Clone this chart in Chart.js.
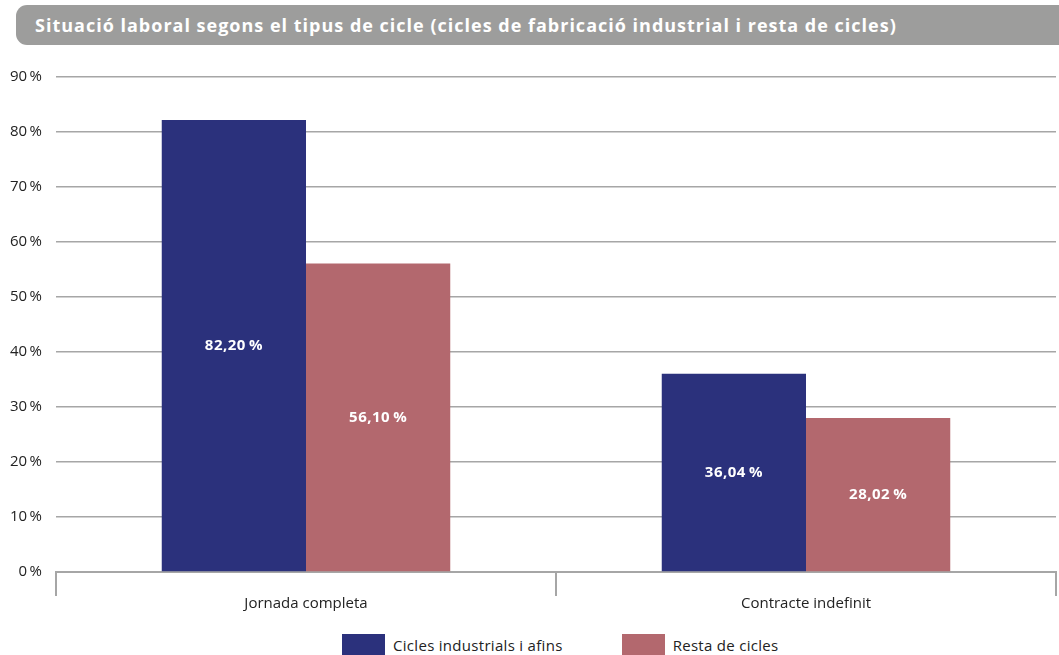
<!DOCTYPE html>
<html>
<head>
<meta charset="utf-8">
<script src="https://cdn.jsdelivr.net/npm/chart.js@4.4.1/dist/chart.umd.min.js"></script>
<style>
    html, body { margin: 0; padding: 0; background: #ffffff; overflow: hidden; }
    #wrap { position: relative; width: 1059px; height: 655px; overflow: hidden; }
    #title {
        position: absolute; left: 16px; top: 5px; width: 1043px; height: 40px;
        background: #9d9d9c; border-radius: 11px 0 0 11px;
        color: #ffffff; font-family: "Open Sans", sans-serif; font-weight: bold;
        font-size: 18px; letter-spacing: 1px; line-height: 40px; padding-left: 19px;
        box-sizing: border-box; white-space: nowrap; z-index: 2;
    }
    #box { position: absolute; left: 0; top: 0; width: 1059px; height: 625px; }
    #legend {
        position: absolute; left: 342px; top: 634px; display: flex; align-items: center;
        font-family: "Open Sans", sans-serif; font-size: 15px; letter-spacing: 0.3px; color: #222222;
    }
    #legend .item { display: flex; align-items: center; margin-right: 59px; white-space: nowrap; }
    #legend .swatch { width: 43px; height: 22px; margin-right: 8px; }
</style>
</head>
<body>
<div id="wrap">
    <div id="title">Situació laboral segons el tipus de cicle (cicles de fabricació industrial i resta de cicles)</div>
    <div id="box"><canvas id="SituacioChart"></canvas></div>
    <div id="legend"></div>
</div>
<script>
// Chart data
const categories = ['Jornada completa', 'Contracte indefinit'];
const industrialValues = [82.20, 36.04];
const restaValues = [56.10, 28.02];
const seriesNames = ['Cicles industrials i afins', 'Resta de cicles'];
const seriesColors = ['#2b317c', '#b3686e'];
const yTicks = [0, 10, 20, 30, 40, 50, 60, 70, 80, 90];

// Format numbers the Catalan way (comma as decimal separator, thin space before %)
function formatPct(v) {
    return v.toFixed(2).replace('.', ',') + '\u2009%';
}

// Draw the value labels in the middle of each bar
const barLabels = {
    id: 'barLabels',
    afterDatasetsDraw(chart) {
        const ctx = chart.ctx;
        ctx.save();
        ctx.fillStyle = '#ffffff';
        ctx.font = 'bold 15px "Open Sans", sans-serif';
        ctx.letterSpacing = '0.5px';
        ctx.textAlign = 'center';
        ctx.textBaseline = 'middle';
        chart.data.datasets.forEach((ds, i) => {
            chart.getDatasetMeta(i).data.forEach((bar, j) => {
                ctx.fillText(formatPct(ds.data[j]), bar.x, (bar.y + bar.base) / 2);
            });
        });
        ctx.restore();
    }
};

// Build the legend under the chart
function buildLegend(chart) {
    const legend = document.getElementById('legend');
    chart.data.datasets.forEach(ds => {
        const item = document.createElement('div');
        item.className = 'item';
        const swatch = document.createElement('span');
        swatch.className = 'swatch';
        swatch.style.background = ds.backgroundColor;
        const text = document.createElement('span');
        text.textContent = ds.label;
        item.appendChild(swatch);
        item.appendChild(text);
        legend.appendChild(item);
    });
}

function createChart(chartElementId) {
    const ctx = document.getElementById(chartElementId).getContext('2d');
    return new Chart(ctx, {
        type: 'bar',
        data: {
            labels: categories,
            datasets: [
                {
                    label: seriesNames[0],
                    data: industrialValues,
                    backgroundColor: seriesColors[0],
                    categoryPercentage: 0.577,
                    barPercentage: 1
                },
                {
                    label: seriesNames[1],
                    data: restaValues,
                    backgroundColor: seriesColors[1],
                    categoryPercentage: 0.577,
                    barPercentage: 1
                }
            ]
        },
        options: {
            responsive: true,
            maintainAspectRatio: false,
            animation: false,
            layout: { padding: { top: 77, right: 3, left: 0, bottom: 14 } },
            plugins: {
                tooltip: { enabled: false },
                legend: { display: false }
            },
            scales: {
                x: {
                    offset: true,
                    grid: {
                        offset: true,
                        drawOnChartArea: false,
                        drawTicks: true,
                        tickLength: 24,
                        color: '#a6a6a6',
                        lineWidth: 2
                    },
                    border: { display: true, color: '#a6a6a6', width: 2 },
                    ticks: {
                        color: '#222222',
                        padding: 0,
                        font: { family: '"Open Sans", sans-serif', size: 15, lineHeight: 1 }
                    }
                },
                y: {
                    min: 0,
                    max: 90,
                    afterBuildTicks(scale) {
                        scale.ticks = yTicks.map(v => ({ value: v }));
                    },
                    afterFit(scale) {
                        scale.width = 56;
                    },
                    grid: { color: '#a6a6a6', lineWidth: 1.5, drawTicks: false },
                    border: { display: false },
                    ticks: {
                        color: '#222222',
                        padding: 14,
                        font: { family: '"Open Sans", sans-serif', size: 15 },
                        callback: v => v + '\u2009%'
                    }
                }
            }
        },
        plugins: [barLabels]
    });
}

const chart = createChart('SituacioChart');
buildLegend(chart);
</script>
</body>
</html>
